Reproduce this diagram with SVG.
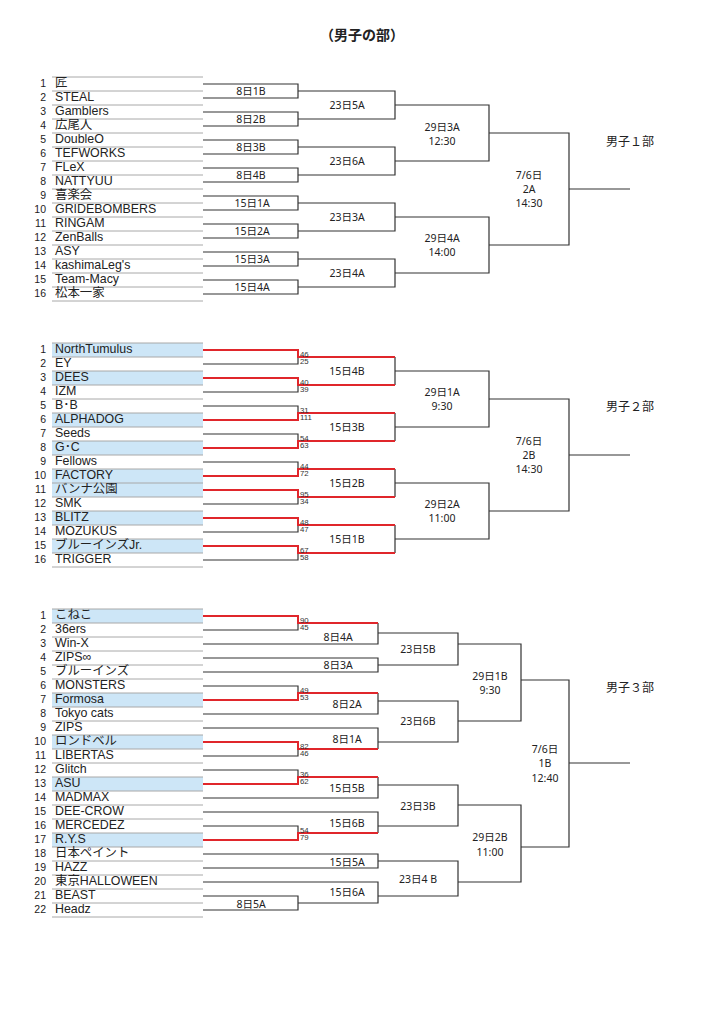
<svg xmlns="http://www.w3.org/2000/svg" width="724" height="1024" viewBox="0 0 724 1024">
<style>
text{font-family:"Noto Sans","Noto Sans CJK JP",sans-serif;fill:#222}
.num{font-size:10.5px;text-anchor:end;font-family:"Liberation Sans","Noto Sans CJK JP",sans-serif;transform:translateY(-1px)}
.nm{font-size:12.4px;font-family:"Liberation Sans","Noto Sans CJK JP",sans-serif;transform:translateY(-1px)}
.lb{font-size:10.5px;text-anchor:middle;dominant-baseline:central}
.sec{font-size:12px;dominant-baseline:central}
.sc{font-size:7.8px;fill:#333;font-family:"Liberation Sans",sans-serif}
.title{font-size:14px;font-weight:bold;text-anchor:middle;font-family:"Noto Sans CJK JP",sans-serif}
.rl{stroke:#a8a8a8;stroke-width:1}
.hl{fill:#cde6f7}
.cn{fill:none;stroke:#333;stroke-width:1.2}
.rd{fill:none;stroke:#e0262b;stroke-width:2}
</style>
<rect width="724" height="1024" fill="#fff"/>
<text class="title" x="362" y="40">（男子の部）</text>

<!-- Section 1 rows -->
<g id="s1-rows">
<line class="rl" x1="52" x2="203" y1="77" y2="77"/>
<g id="s1-r1"><line class="rl" x1="52" x2="203" y1="91" y2="91"/><text class="num" x="46" y="88">1</text><text class="nm" x="55" y="88">匠</text></g>
<g id="s1-r2"><line class="rl" x1="52" x2="203" y1="105" y2="105"/><text class="num" x="46" y="102">2</text><text class="nm" x="55" y="102">STEAL</text></g>
<g id="s1-r3"><line class="rl" x1="52" x2="203" y1="119" y2="119"/><text class="num" x="46" y="116">3</text><text class="nm" x="55" y="116">Gamblers</text></g>
<g id="s1-r4"><line class="rl" x1="52" x2="203" y1="133" y2="133"/><text class="num" x="46" y="130">4</text><text class="nm" x="55" y="130">広尾人</text></g>
<g id="s1-r5"><line class="rl" x1="52" x2="203" y1="147" y2="147"/><text class="num" x="46" y="144">5</text><text class="nm" x="55" y="144">DoubleO</text></g>
<g id="s1-r6"><line class="rl" x1="52" x2="203" y1="161" y2="161"/><text class="num" x="46" y="158">6</text><text class="nm" x="55" y="158">TEFWORKS</text></g>
<g id="s1-r7"><line class="rl" x1="52" x2="203" y1="175" y2="175"/><text class="num" x="46" y="172">7</text><text class="nm" x="55" y="172">FLeX</text></g>
<g id="s1-r8"><line class="rl" x1="52" x2="203" y1="189" y2="189"/><text class="num" x="46" y="186">8</text><text class="nm" x="55" y="186">NATTYUU</text></g>
<g id="s1-r9"><line class="rl" x1="52" x2="203" y1="203" y2="203"/><text class="num" x="46" y="200">9</text><text class="nm" x="55" y="200">喜楽会</text></g>
<g id="s1-r10"><line class="rl" x1="52" x2="203" y1="217" y2="217"/><text class="num" x="46" y="214">10</text><text class="nm" x="55" y="214">GRIDEBOMBERS</text></g>
<g id="s1-r11"><line class="rl" x1="52" x2="203" y1="231" y2="231"/><text class="num" x="46" y="228">11</text><text class="nm" x="55" y="228">RINGAM</text></g>
<g id="s1-r12"><line class="rl" x1="52" x2="203" y1="245" y2="245"/><text class="num" x="46" y="242">12</text><text class="nm" x="55" y="242">ZenBalls</text></g>
<g id="s1-r13"><line class="rl" x1="52" x2="203" y1="259" y2="259"/><text class="num" x="46" y="256">13</text><text class="nm" x="55" y="256">ASY</text></g>
<g id="s1-r14"><line class="rl" x1="52" x2="203" y1="273" y2="273"/><text class="num" x="46" y="270">14</text><text class="nm" x="55" y="270">kashimaLeg's</text></g>
<g id="s1-r15"><line class="rl" x1="52" x2="203" y1="287" y2="287"/><text class="num" x="46" y="284">15</text><text class="nm" x="55" y="284">Team-Macy</text></g>
<g id="s1-r16"><line class="rl" x1="52" x2="203" y1="301" y2="301"/><text class="num" x="46" y="298">16</text><text class="nm" x="55" y="298">松本一家</text></g>
</g>

<!-- Section 2 rows -->
<g id="s2-rows">
<rect class="hl" x="52" y="343" width="151" height="14"/>
<rect class="hl" x="52" y="371" width="151" height="14"/>
<rect class="hl" x="52" y="413" width="151" height="14"/>
<rect class="hl" x="52" y="441" width="151" height="14"/>
<rect class="hl" x="52" y="469" width="151" height="14"/>
<rect class="hl" x="52" y="483" width="151" height="14"/>
<rect class="hl" x="52" y="511" width="151" height="14"/>
<rect class="hl" x="52" y="539" width="151" height="14"/>
<line class="rl" x1="52" x2="203" y1="343" y2="343"/>
<g id="s2-r1"><line class="rl" x1="52" x2="203" y1="357" y2="357"/><text class="num" x="46" y="354">1</text><text class="nm" x="55" y="354">NorthTumulus</text></g>
<g id="s2-r2"><line class="rl" x1="52" x2="203" y1="371" y2="371"/><text class="num" x="46" y="368">2</text><text class="nm" x="55" y="368">EY</text></g>
<g id="s2-r3"><line class="rl" x1="52" x2="203" y1="385" y2="385"/><text class="num" x="46" y="382">3</text><text class="nm" x="55" y="382">DEES</text></g>
<g id="s2-r4"><line class="rl" x1="52" x2="203" y1="399" y2="399"/><text class="num" x="46" y="396">4</text><text class="nm" x="55" y="396">IZM</text></g>
<g id="s2-r5"><line class="rl" x1="52" x2="203" y1="413" y2="413"/><text class="num" x="46" y="410">5</text><text class="nm" x="55" y="410">B･B</text></g>
<g id="s2-r6"><line class="rl" x1="52" x2="203" y1="427" y2="427"/><text class="num" x="46" y="424">6</text><text class="nm" x="55" y="424">ALPHADOG</text></g>
<g id="s2-r7"><line class="rl" x1="52" x2="203" y1="441" y2="441"/><text class="num" x="46" y="438">7</text><text class="nm" x="55" y="438">Seeds</text></g>
<g id="s2-r8"><line class="rl" x1="52" x2="203" y1="455" y2="455"/><text class="num" x="46" y="452">8</text><text class="nm" x="55" y="452">G･C</text></g>
<g id="s2-r9"><line class="rl" x1="52" x2="203" y1="469" y2="469"/><text class="num" x="46" y="466">9</text><text class="nm" x="55" y="466">Fellows</text></g>
<g id="s2-r10"><line class="rl" x1="52" x2="203" y1="483" y2="483"/><text class="num" x="46" y="480">10</text><text class="nm" x="55" y="480">FACTORY</text></g>
<g id="s2-r11"><line class="rl" x1="52" x2="203" y1="497" y2="497"/><text class="num" x="46" y="494">11</text><text class="nm" x="55" y="494">バンナ公園</text></g>
<g id="s2-r12"><line class="rl" x1="52" x2="203" y1="511" y2="511"/><text class="num" x="46" y="508">12</text><text class="nm" x="55" y="508">SMK</text></g>
<g id="s2-r13"><line class="rl" x1="52" x2="203" y1="525" y2="525"/><text class="num" x="46" y="522">13</text><text class="nm" x="55" y="522">BLITZ</text></g>
<g id="s2-r14"><line class="rl" x1="52" x2="203" y1="539" y2="539"/><text class="num" x="46" y="536">14</text><text class="nm" x="55" y="536">MOZUKUS</text></g>
<g id="s2-r15"><line class="rl" x1="52" x2="203" y1="553" y2="553"/><text class="num" x="46" y="550">15</text><text class="nm" x="55" y="550">ブルーインズJr.</text></g>
<g id="s2-r16"><line class="rl" x1="52" x2="203" y1="567" y2="567"/><text class="num" x="46" y="564">16</text><text class="nm" x="55" y="564">TRIGGER</text></g>
</g>

<!-- Section 3 rows -->
<g id="s3-rows">
<rect class="hl" x="52" y="609" width="151" height="14"/>
<rect class="hl" x="52" y="693" width="151" height="14"/>
<rect class="hl" x="52" y="735" width="151" height="14"/>
<rect class="hl" x="52" y="777" width="151" height="14"/>
<rect class="hl" x="52" y="833" width="151" height="14"/>
<line class="rl" x1="52" x2="203" y1="609" y2="609"/>
<g id="s3-r1"><line class="rl" x1="52" x2="203" y1="623" y2="623"/><text class="num" x="46" y="620">1</text><text class="nm" x="55" y="620">こねこ</text></g>
<g id="s3-r2"><line class="rl" x1="52" x2="203" y1="637" y2="637"/><text class="num" x="46" y="634">2</text><text class="nm" x="55" y="634">36ers</text></g>
<g id="s3-r3"><line class="rl" x1="52" x2="203" y1="651" y2="651"/><text class="num" x="46" y="648">3</text><text class="nm" x="55" y="648">Win-X</text></g>
<g id="s3-r4"><line class="rl" x1="52" x2="203" y1="665" y2="665"/><text class="num" x="46" y="662">4</text><text class="nm" x="55" y="662">ZIPS∞</text></g>
<g id="s3-r5"><line class="rl" x1="52" x2="203" y1="679" y2="679"/><text class="num" x="46" y="676">5</text><text class="nm" x="55" y="676">ブルーインズ</text></g>
<g id="s3-r6"><line class="rl" x1="52" x2="203" y1="693" y2="693"/><text class="num" x="46" y="690">6</text><text class="nm" x="55" y="690">MONSTERS</text></g>
<g id="s3-r7"><line class="rl" x1="52" x2="203" y1="707" y2="707"/><text class="num" x="46" y="704">7</text><text class="nm" x="55" y="704">Formosa</text></g>
<g id="s3-r8"><line class="rl" x1="52" x2="203" y1="721" y2="721"/><text class="num" x="46" y="718">8</text><text class="nm" x="55" y="718">Tokyo cats</text></g>
<g id="s3-r9"><line class="rl" x1="52" x2="203" y1="735" y2="735"/><text class="num" x="46" y="732">9</text><text class="nm" x="55" y="732">ZIPS</text></g>
<g id="s3-r10"><line class="rl" x1="52" x2="203" y1="749" y2="749"/><text class="num" x="46" y="746">10</text><text class="nm" x="55" y="746">ロンドベル</text></g>
<g id="s3-r11"><line class="rl" x1="52" x2="203" y1="763" y2="763"/><text class="num" x="46" y="760">11</text><text class="nm" x="55" y="760">LIBERTAS</text></g>
<g id="s3-r12"><line class="rl" x1="52" x2="203" y1="777" y2="777"/><text class="num" x="46" y="774">12</text><text class="nm" x="55" y="774">Glitch</text></g>
<g id="s3-r13"><line class="rl" x1="52" x2="203" y1="791" y2="791"/><text class="num" x="46" y="788">13</text><text class="nm" x="55" y="788">ASU</text></g>
<g id="s3-r14"><line class="rl" x1="52" x2="203" y1="805" y2="805"/><text class="num" x="46" y="802">14</text><text class="nm" x="55" y="802">MADMAX</text></g>
<g id="s3-r15"><line class="rl" x1="52" x2="203" y1="819" y2="819"/><text class="num" x="46" y="816">15</text><text class="nm" x="55" y="816">DEE-CROW</text></g>
<g id="s3-r16"><line class="rl" x1="52" x2="203" y1="833" y2="833"/><text class="num" x="46" y="830">16</text><text class="nm" x="55" y="830">MERCEDEZ</text></g>
<g id="s3-r17"><line class="rl" x1="52" x2="203" y1="847" y2="847"/><text class="num" x="46" y="844">17</text><text class="nm" x="55" y="844">R.Y.S</text></g>
<g id="s3-r18"><line class="rl" x1="52" x2="203" y1="861" y2="861"/><text class="num" x="46" y="858">18</text><text class="nm" x="55" y="858">日本ペイント</text></g>
<g id="s3-r19"><line class="rl" x1="52" x2="203" y1="875" y2="875"/><text class="num" x="46" y="872">19</text><text class="nm" x="55" y="872">HAZZ</text></g>
<g id="s3-r20"><line class="rl" x1="52" x2="203" y1="889" y2="889"/><text class="num" x="46" y="886">20</text><text class="nm" x="55" y="886">東京HALLOWEEN</text></g>
<g id="s3-r21"><line class="rl" x1="52" x2="203" y1="903" y2="903"/><text class="num" x="46" y="900">21</text><text class="nm" x="55" y="900">BEAST</text></g>
<g id="s3-r22"><line class="rl" x1="52" x2="203" y1="917" y2="917"/><text class="num" x="46" y="914">22</text><text class="nm" x="55" y="914">Headz</text></g>
</g>

<!-- Connectors -->
<g id="connectors">
<!-- S1 -->
<path class="cn" d="M203 84H298V98H203M203 112H298V126H203M203 140H298V154H203M203 168H298V182H203M203 196H298V210H203M203 224H298V238H203M203 252H298V266H203M203 280H298V294H203"/>
<path class="cn" d="M298 91H395V119H298M298 147H395V175H298M298 203H395V231H298M298 259H395V287H298"/>
<path class="cn" d="M395 105H489V161H395M395 217H489V273H395"/>
<path class="cn" d="M489 133H569V245H489M569 189H630"/>
<!-- S2 -->
<path class="cn" d="M203 350H298V364H203M203 378H298V392H203M203 406H298V420H203M203 434H298V448H203M203 462H298V476H203M203 490H298V504H203M203 518H298V532H203M203 546H298V560H203"/>
<path class="cn" d="M395 357V385M395 413V441M395 469V497M395 525V553"/>
<path class="rd" d="M203 350H298V357H395M203 378H298V385H395M203 420H298V413H395M203 448H298V441H395M203 476H298V469H395M203 490H298V497H395M203 518H298V525H395M203 546H298V553H395"/>
<path class="cn" d="M395 371H489V427H395M395 483H489V539H395"/>
<path class="cn" d="M489 399H569V511H489M569 455H630"/>
<!-- S3 -->
<path class="cn" d="M203 616H298V630H203M203 686H298V700H203M203 742H298V756H203M203 770H298V784H203M203 826H298V840H203M203 896H298V910H203"/>
<path class="cn" d="M378 623V644H203M203 658H378V672H203M378 693V714H203M203 728H378V749M378 777V798H203M203 812H378V833M203 854H378V868H203M203 882H378V903H298"/>
<path class="rd" d="M203 616H298V623H378M203 700H298V693H378M203 742H298V749H378M203 784H298V777H378M203 840H298V833H378"/>
<path class="cn" d="M378 633H458V665H378M378 701H458V742H378M378 785H458V826H378M378 861H458V896H378"/>
<path class="cn" d="M458 644H521V721H458M458 805H521V882H458"/>
<path class="cn" d="M521 680H569V847H521M569 763H630"/>
</g>

<!-- Scores -->
<g id="scores">
<text class="sc" x="300" y="356.5">46</text><text class="sc" x="300" y="363.5">25</text>
<text class="sc" x="300" y="384.5">40</text><text class="sc" x="300" y="391.5">39</text>
<text class="sc" x="300" y="412.5">31</text><text class="sc" x="300" y="419.5">111</text>
<text class="sc" x="300" y="440.5">54</text><text class="sc" x="300" y="447.5">63</text>
<text class="sc" x="300" y="468.5">44</text><text class="sc" x="300" y="475.5">72</text>
<text class="sc" x="300" y="496.5">95</text><text class="sc" x="300" y="503.5">34</text>
<text class="sc" x="300" y="524.5">48</text><text class="sc" x="300" y="531.5">47</text>
<text class="sc" x="300" y="552.5">67</text><text class="sc" x="300" y="559.5">58</text>
<text class="sc" x="300" y="622.5">90</text><text class="sc" x="300" y="629.5">45</text>
<text class="sc" x="300" y="692.5">49</text><text class="sc" x="300" y="699.5">53</text>
<text class="sc" x="300" y="748.5">82</text><text class="sc" x="300" y="755.5">46</text>
<text class="sc" x="300" y="776.5">36</text><text class="sc" x="300" y="783.5">62</text>
<text class="sc" x="300" y="832.5">54</text><text class="sc" x="300" y="839.5">79</text>
</g>

<!-- Match labels -->
<g id="labels">
<text class="lb" x="251" y="91">8日1B</text>
<text class="lb" x="251" y="119">8日2B</text>
<text class="lb" x="251" y="147">8日3B</text>
<text class="lb" x="251" y="175">8日4B</text>
<text class="lb" x="252" y="203">15日1A</text>
<text class="lb" x="252" y="231">15日2A</text>
<text class="lb" x="252" y="259">15日3A</text>
<text class="lb" x="252" y="287">15日4A</text>
<text class="lb" x="347" y="105">23日5A</text>
<text class="lb" x="347" y="161">23日6A</text>
<text class="lb" x="347" y="217">23日3A</text>
<text class="lb" x="347" y="273">23日4A</text>
<text class="lb" x="442" y="127">29日3A</text>
<text class="lb" x="442" y="141">12:30</text>
<text class="lb" x="442" y="238">29日4A</text>
<text class="lb" x="442" y="252">14:00</text>
<text class="lb" x="529" y="175">7/6日</text>
<text class="lb" x="529" y="189">2A</text>
<text class="lb" x="529" y="203">14:30</text>
<text class="sec" x="606" y="141">男子１部</text>

<text class="lb" x="347" y="371">15日4B</text>
<text class="lb" x="347" y="427">15日3B</text>
<text class="lb" x="347" y="483">15日2B</text>
<text class="lb" x="347" y="539">15日1B</text>
<text class="lb" x="442" y="392">29日1A</text>
<text class="lb" x="442" y="406">9:30</text>
<text class="lb" x="442" y="504">29日2A</text>
<text class="lb" x="442" y="518">11:00</text>
<text class="lb" x="529" y="441">7/6日</text>
<text class="lb" x="529" y="455">2B</text>
<text class="lb" x="529" y="469">14:30</text>
<text class="sec" x="606" y="406">男子２部</text>

<text class="lb" x="338" y="637">8日4A</text>
<text class="lb" x="338" y="665">8日3A</text>
<text class="lb" x="347" y="704">8日2A</text>
<text class="lb" x="347" y="739">8日1A</text>
<text class="lb" x="347" y="788">15日5B</text>
<text class="lb" x="347" y="823">15日6B</text>
<text class="lb" x="347" y="862">15日5A</text>
<text class="lb" x="347" y="892">15日6A</text>
<text class="lb" x="251" y="904">8日5A</text>
<text class="lb" x="418" y="649">23日5B</text>
<text class="lb" x="418" y="721">23日6B</text>
<text class="lb" x="418" y="806">23日3B</text>
<text class="lb" x="418" y="879">23日4 B</text>
<text class="lb" x="490" y="676">29日1B</text>
<text class="lb" x="490" y="690">9:30</text>
<text class="lb" x="490" y="837">29日2B</text>
<text class="lb" x="490" y="852">11:00</text>
<text class="lb" x="545" y="749">7/6日</text>
<text class="lb" x="545" y="763">1B</text>
<text class="lb" x="545" y="778">12:40</text>
<text class="sec" x="606" y="687">男子３部</text>
</g>
</svg>
